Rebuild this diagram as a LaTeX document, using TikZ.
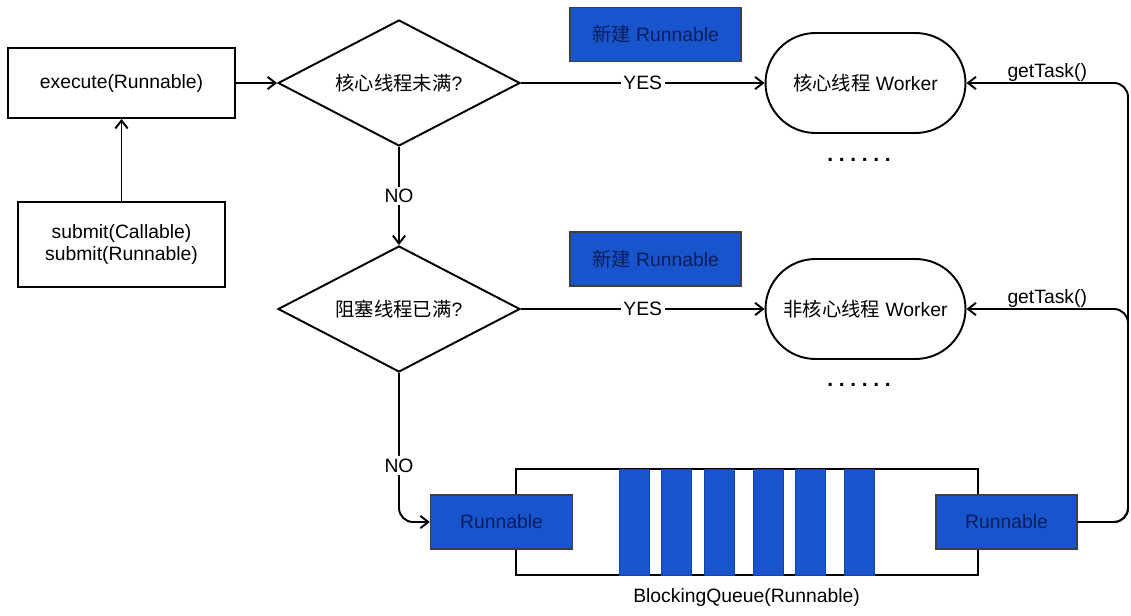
\documentclass[tikz,border=0pt]{standalone}
\usepackage{fontspec}
\setmainfont{Liberation Sans}
\newfontfamily\cjk{Noto Sans CJK SC}
\usepackage{tikz}
\usetikzlibrary{shapes.geometric, arrows.meta, positioning}
\usepackage{xcolor}
\definecolor{taskblue}{RGB}{24,84,204}
\definecolor{taskink}{RGB}{10,30,92}

\begin{document}
\begin{tikzpicture}[
  x=0.02cm, y=-0.02cm,
  every node/.style={font=\fontsize{11}{12.5}\selectfont},
  procbox/.style={rectangle, draw, line width=1.1pt, align=center},
  decision/.style={diamond, draw, line width=1.1pt, aspect=1.92, minimum width=4.84cm, minimum height=2.52cm, inner sep=0pt},
  worker/.style={rectangle, draw, line width=1.1pt, rounded corners=1cm, minimum width=4cm, minimum height=2cm},
  taskbox/.style={rectangle, draw=black!75, line width=0.8pt, fill=taskblue, text=taskink, minimum height=1.08cm},
  slot/.style={rectangle, draw=taskblue!80!black, line width=0.4pt, fill=taskblue, minimum width=0.6cm, minimum height=2.12cm, inner sep=0pt},
  flow/.style={-{Straight Barb[length=4.5pt, width=7pt]}, line width=1.1pt},
  lbl/.style={fill=white, inner sep=1.5pt},
  dots/.style={font=\fontsize{12}{12}\selectfont\bfseries},
]
  \useasboundingbox (0,0) rectangle (1131,615);

  \node[procbox, minimum width=4.54cm, minimum height=1.4cm] (exec) at (121.5,83) {execute(Runnable)};
  \node[procbox, minimum width=4.14cm, minimum height=1.7cm] (submit) at (121.5,244.5) {submit(Callable)\\submit(Runnable)};
  \node[decision] (d1) at (399,83) {{\cjk 核心线程未满}?};
  \node[decision] (d2) at (399,309) {{\cjk 阻塞线程已满}?};
  \node[worker] (w1) at (865.5,83) {{\cjk 核心线程} Worker};
  \node[worker] (w2) at (865.5,309) {{\cjk 非核心线程} Worker};
  \node[taskbox, minimum width=3.42cm] (new1) at (655.5,34.5) {{\cjk 新建} Runnable};
  \node[taskbox, minimum width=3.42cm] (new2) at (655.5,259) {{\cjk 新建} Runnable};
  \node[dots] (dots1) at (859,160) {.\hspace{3.2pt}.\hspace{3.2pt}.\hspace{3.2pt}.\hspace{3.2pt}.\hspace{3.2pt}.};
  \node[dots] (dots2) at (859,385) {.\hspace{3.2pt}.\hspace{3.2pt}.\hspace{3.2pt}.\hspace{3.2pt}.\hspace{3.2pt}.};

  % blocking queue with queued tasks
  \node[procbox, minimum width=9.24cm, minimum height=2.12cm] (queue) at (746.6,522) {};
  \node[slot] (s1) at (634.5,522) {};
  \node[slot] (s2) at (676.5,522) {};
  \node[slot] (s3) at (719.5,522) {};
  \node[slot] (s4) at (768.5,522) {};
  \node[slot] (s5) at (810.5,522) {};
  \node[slot] (s6) at (859.5,522) {};
  \node[taskbox, minimum width=2.84cm] (runL) at (501.5,522) {Runnable};
  \node[taskbox, minimum width=2.82cm] (runR) at (1006.5,522) {Runnable};
  \node[below=0.12cm of queue] (qlabel) {BlockingQueue(Runnable)};

  \coordinate (rail1) at (1128,83);
  \coordinate (rail2) at (1128,309);

  \draw[flow] (submit) -- (exec);
  \draw[flow] (exec) -- (d1);
  \draw[flow] (d1) -- node[lbl]{YES} (w1);
  \draw[flow] (d1) -- node[lbl]{NO} (d2);
  \draw[flow] (d2) -- node[lbl]{YES} (w2);
  \draw[flow, rounded corners=8pt] (d2.south) |- node[lbl, pos=0.31]{NO} (runL.west);
  \draw[flow, rounded corners=8pt] (runR.east) -| (rail1) -- node[above, inner sep=0.5pt]{getTask()} (w1.east);
  \draw[flow, rounded corners=8pt] (runR.east) -| (rail2) -- node[above, inner sep=0.5pt]{getTask()} (w2.east);
\end{tikzpicture}
\end{document}
